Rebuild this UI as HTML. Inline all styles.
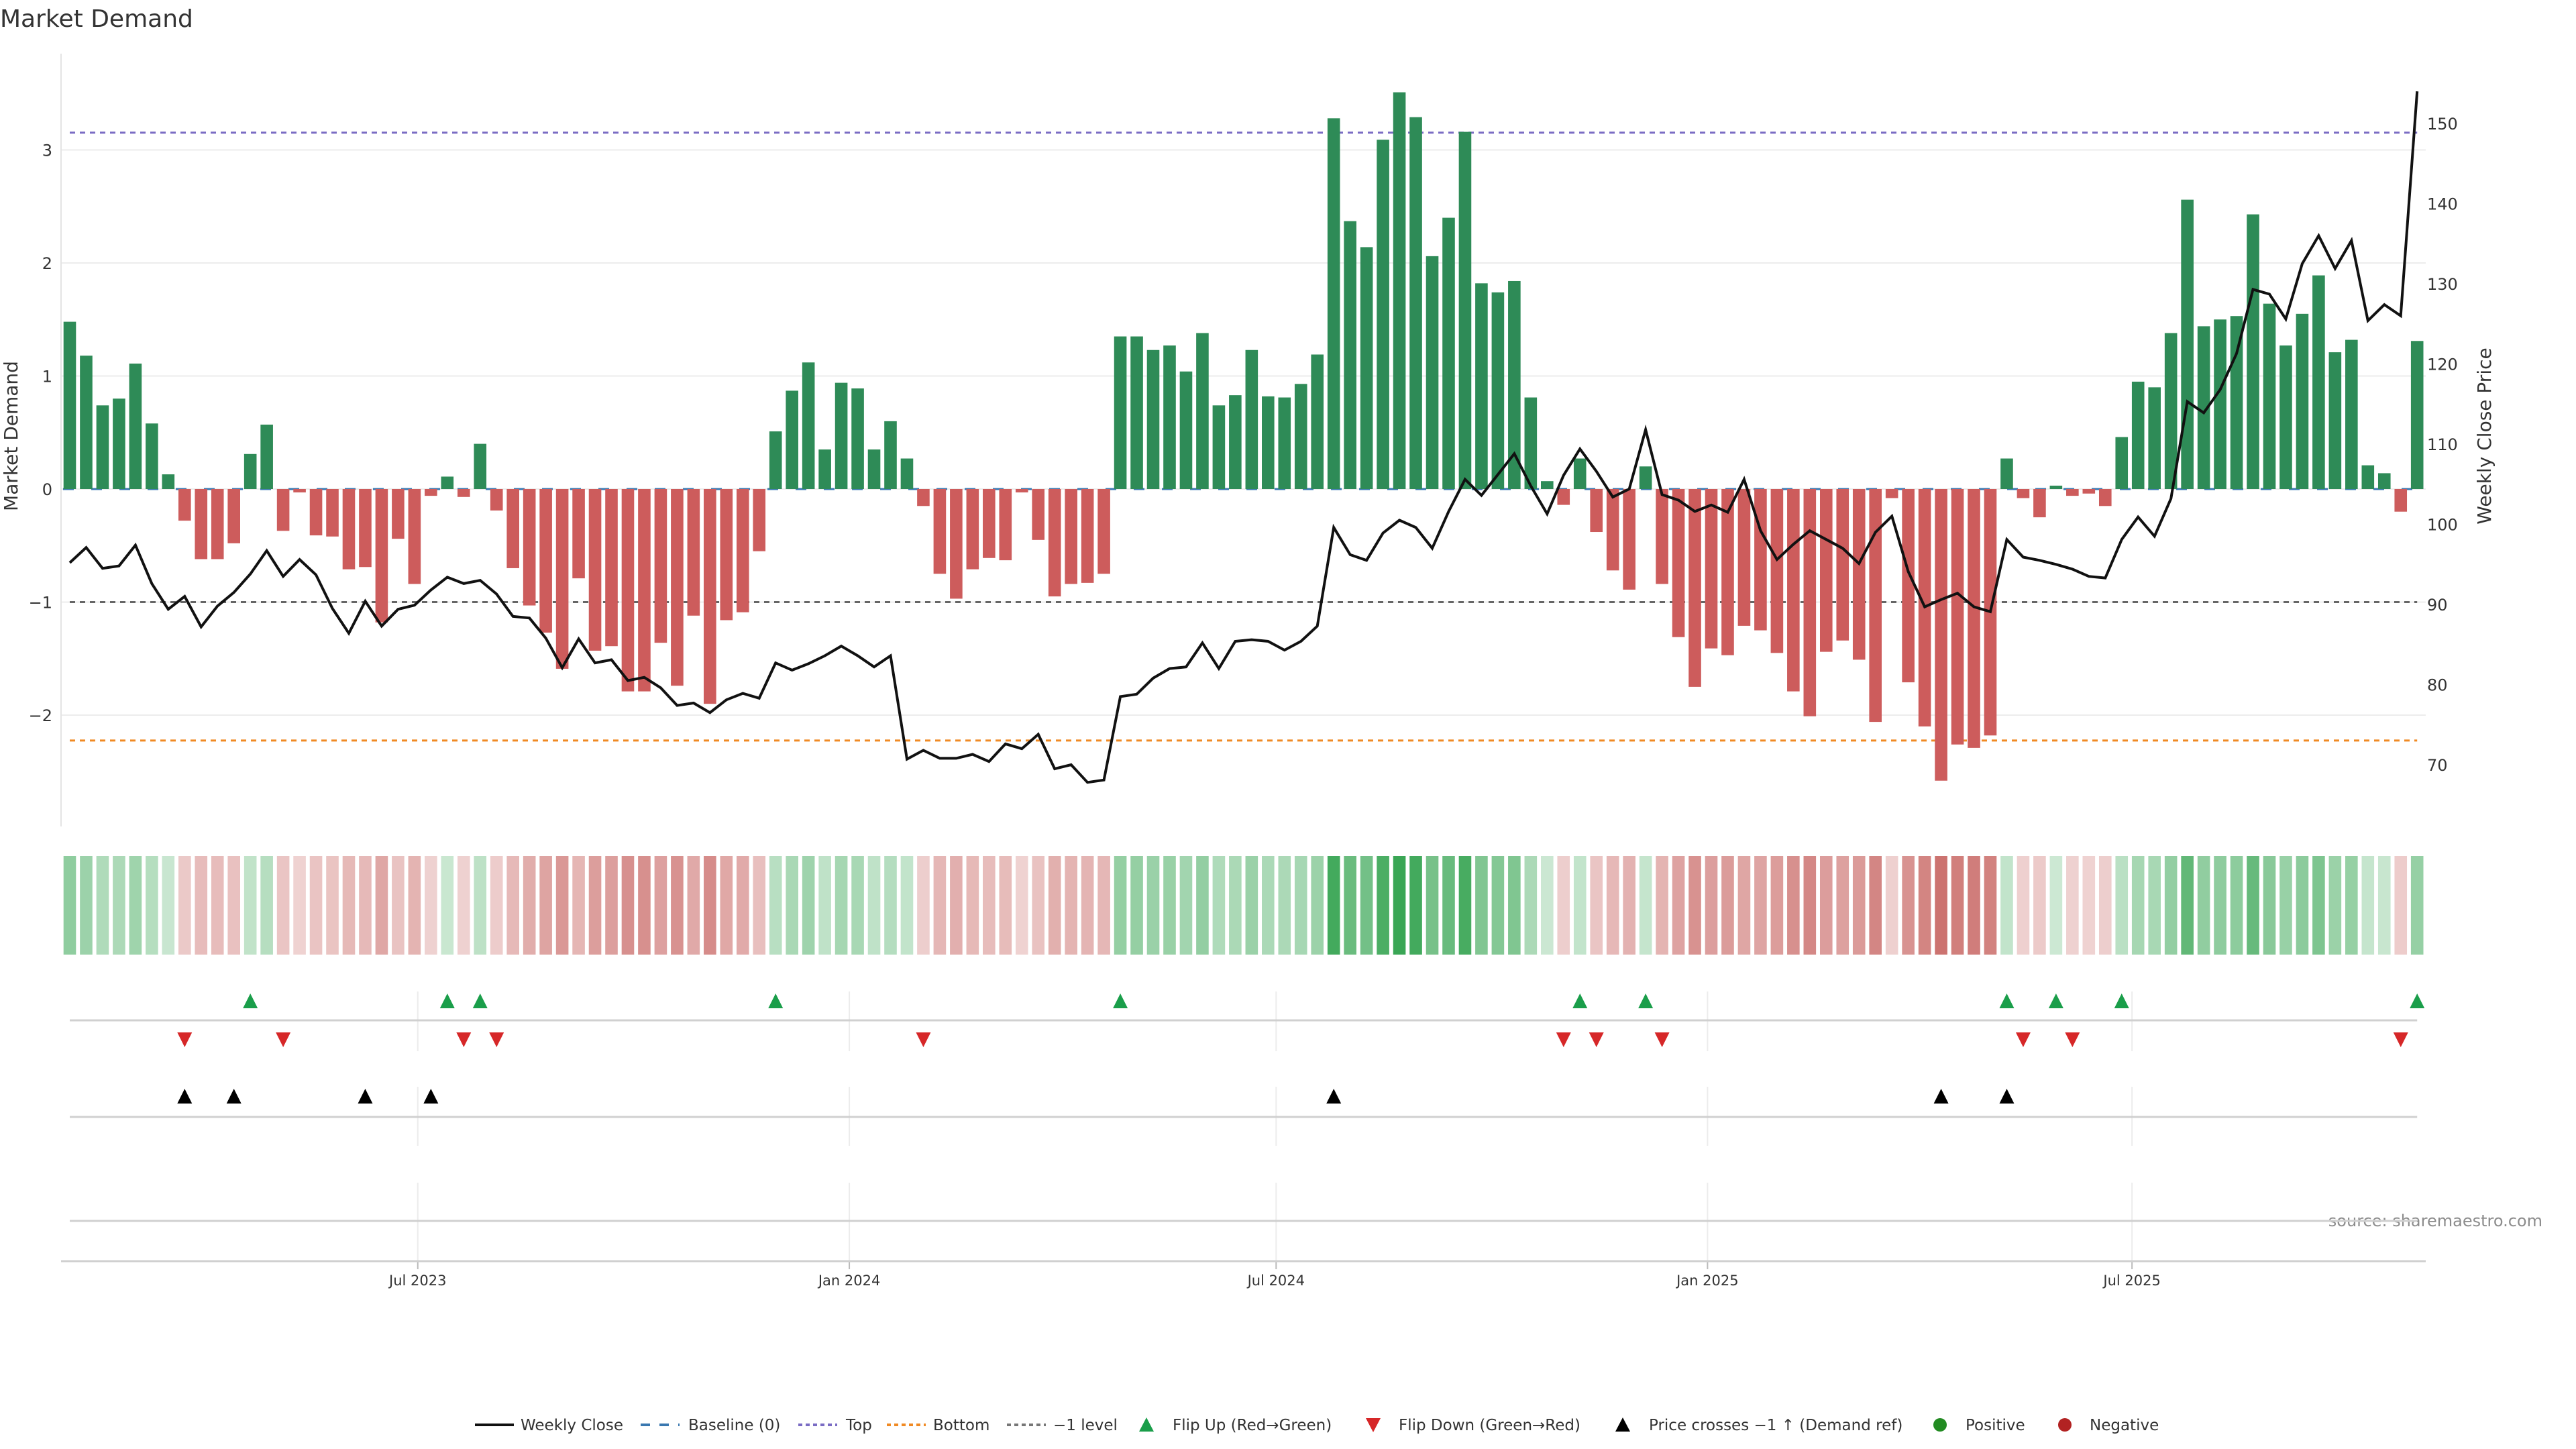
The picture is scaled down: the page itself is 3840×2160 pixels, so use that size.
<!DOCTYPE html>
<html><head><meta charset="utf-8"><title>Market Demand</title>
<style>
html,body{margin:0;padding:0;background:#fff;}
svg{display:block;}
text{font-family:"DejaVu Sans","Liberation Sans",sans-serif;}
</style></head>
<body>
<svg id="chart" xmlns="http://www.w3.org/2000/svg" width="3840" height="2160" viewBox="0 0 3840 2160">
<rect x="0" y="0" width="3840" height="2160" fill="#fff"/>
<text x="0" y="40" font-size="36" fill="#333">Market Demand</text>
<text transform="translate(26,650) rotate(-90)" text-anchor="middle" font-size="28" fill="#333">Market Demand</text>
<text transform="translate(3713,650) rotate(-90)" text-anchor="middle" font-size="28" fill="#333">Weekly Close Price</text>
<text x="3790" y="1828" text-anchor="end" font-size="24" fill="#8c8c8c">source: sharemaestro.com</text>
<g id="grid"></g><g id="refs"></g><g id="bars"></g><g id="line"></g><g id="heat"></g><g id="signals"></g><g id="axes"></g><g id="legend"></g>
</svg>
<script>
const demand = [1.48,1.18,0.74,0.80,1.11,0.58,0.13,-0.28,-0.62,-0.62,-0.48,0.31,0.57,-0.37,-0.03,-0.41,-0.42,-0.71,-0.69,-1.18,-0.44,-0.84,-0.06,0.11,-0.07,0.40,-0.19,-0.70,-1.03,-1.27,-1.59,-0.79,-1.43,-1.39,-1.79,-1.79,-1.36,-1.74,-1.12,-1.90,-1.16,-1.09,-0.55,0.51,0.87,1.12,0.35,0.94,0.89,0.35,0.60,0.27,-0.15,-0.75,-0.97,-0.71,-0.61,-0.63,-0.03,-0.45,-0.95,-0.84,-0.83,-0.75,1.35,1.35,1.23,1.27,1.04,1.38,0.74,0.83,1.23,0.82,0.81,0.93,1.19,3.28,2.37,2.14,3.09,3.51,3.29,2.06,2.40,3.16,1.82,1.74,1.84,0.81,0.07,-0.14,0.27,-0.38,-0.72,-0.89,0.20,-0.84,-1.31,-1.75,-1.41,-1.47,-1.21,-1.25,-1.45,-1.79,-2.01,-1.44,-1.34,-1.51,-2.06,-0.08,-1.71,-2.10,-2.58,-2.26,-2.29,-2.18,0.27,-0.08,-0.25,0.03,-0.06,-0.04,-0.15,0.46,0.95,0.90,1.38,2.56,1.44,1.50,1.53,2.43,1.64,1.27,1.55,1.89,1.21,1.32,0.21,0.14,-0.20,1.31];
const price = [95.2,97.1,94.5,94.8,97.4,92.6,89.4,91.0,87.2,89.8,91.5,93.8,96.7,93.5,95.6,93.7,89.5,86.4,90.4,87.3,89.4,89.9,91.8,93.4,92.6,93.0,91.3,88.5,88.3,85.8,82.1,85.7,82.7,83.1,80.5,80.9,79.6,77.4,77.7,76.5,78.1,78.9,78.3,82.7,81.8,82.6,83.6,84.8,83.6,82.2,83.6,70.7,71.8,70.8,70.8,71.3,70.4,72.6,72.0,73.8,69.5,70.0,67.8,68.1,78.5,78.8,80.8,82.0,82.2,85.2,82.0,85.4,85.6,85.4,84.3,85.4,87.3,99.6,96.2,95.5,98.9,100.5,99.6,97.0,101.6,105.6,103.6,106.2,108.8,104.8,101.3,106.1,109.4,106.6,103.4,104.4,111.8,103.7,103.0,101.6,102.4,101.5,105.6,99.2,95.6,97.5,99.2,98.1,97.0,95.1,99.0,101.0,94.1,89.7,90.6,91.4,89.7,89.1,98.1,95.9,95.5,95.0,94.4,93.5,93.3,98.1,100.9,98.5,103.2,115.3,113.9,116.8,121.3,129.3,128.7,125.6,132.5,136.0,131.9,135.4,125.4,127.4,126.0,154.0];
const yTicks = [3,2,1,0,-1,-2];
const yTickLabels = ["3","2","1","0","\u22121","\u22122"];
const priceTicks = [70,80,90,100,110,120,130,140,150];
const dateTickWeeks = [21.2,47.49,73.49,99.77,125.63];
const dateTickLabels = ["Jul 2023","Jan 2024","Jul 2024","Jan 2025","Jul 2025"];
const refLevels = [3.153,-2.225,-1];
const demandRefPrice = 90;

const NS="http://www.w3.org/2000/svg";
function mk(tag, attrs, parent){const e=document.createElementNS(NS,tag);for(const k in attrs)e.setAttribute(k,attrs[k]);parent.appendChild(e);return e;}
const X0=104, PITCH=24.47, BW=18.6;
const xAt = i => X0 + i*PITCH;
const yAt = v => 729 - v*168.5;
const pAt = p => 184 + (150-p)*11.95;
const g = id => document.getElementById(id);

yTicks.forEach((t,k)=>{
  const l=mk('line',{x1:91,x2:3616,y1:yAt(t),y2:yAt(t),stroke:'#ececec','stroke-width':2},g('grid'));
  
  
  const tx=mk('text',{x:78,y:yAt(t)+9,'text-anchor':'end','font-size':24,fill:'#333'},g('axes'));
  tx.textContent=yTickLabels[k];
  
  
});
priceTicks.forEach(p=>{
  const tx=mk('text',{x:3618,y:pAt(p)+9,'font-size':24,fill:'#333'},g('axes'));
  tx.textContent=String(p);
  
  
});
let ax=mk('line',{x1:91,x2:91,y1:80,y2:1232,stroke:'#e4e4e4','stroke-width':2},g('axes'));



const refColors=['#7a6cc4','#f08a24','#666'];
const refNames=['top-line','bottom-line','minus-one-level-line'];
refLevels.forEach((v,k)=>{
  const l=mk('line',{x1:X0,x2:xAt(demand.length-1),y1:yAt(v),y2:yAt(v),stroke:refColors[k],'stroke-width':3,'stroke-dasharray':'8 7'},g('refs'));
  
  
});

demand.forEach((v,i)=>{
  const y0=yAt(0), y1=yAt(v);
  const r=mk('rect',{x:xAt(i)-BW/2,y:Math.min(y0,y1),width:BW,height:Math.max(1,Math.abs(y1-y0)),fill:v>=0?'#2e8b57':'#cd5c5c'},g('bars'));
  
  
});
let bl=mk('line',{x1:X0-10,x2:xAt(demand.length-1)+10,y1:yAt(0),y2:yAt(0),stroke:'#3a78b0','stroke-width':3,'stroke-dasharray':'16 26'},g('refs'));



const pts=price.map((p,i)=>xAt(i).toFixed(1)+','+pAt(p).toFixed(1)).join(' ');
let pl=mk('polyline',{points:pts,fill:'none',stroke:'#111','stroke-width':4,'stroke-linejoin':'miter'},g('line'));



function heatColor(v){
  const t=0.25+0.75*Math.min(Math.abs(v)/3.5,1);
  const base=v>=0?[58,166,85]:[192,80,77];
  const c=base.map(b=>Math.round(255-(255-b)*t));
  return 'rgb('+c.join(',')+')';
}
demand.forEach((v,i)=>{
  const r=mk('rect',{x:xAt(i)-BW/2,y:1276,width:BW,height:147,fill:heatColor(v)},g('heat'));
  
  
});

[1521,1665,1820].forEach(y=>{
  const l=mk('line',{x1:X0,x2:xAt(demand.length-1),y1:y,y2:y,stroke:'#d0d0d0','stroke-width':3},g('signals'));
  
  
});
dateTickWeeks.forEach((w,k)=>{
  const x=xAt(w);
  [[1478,1567],[1620,1708],[1763,1880]].forEach(([a,b])=>{
    const l=mk('line',{x1:x,x2:x,y1:a,y2:b,stroke:'#ececec','stroke-width':2},g('grid'));
    
    
  });
  const t=mk('line',{x1:x,x2:x,y1:1880,y2:1892,stroke:'#bbb','stroke-width':2},g('axes'));
  
  
  const tx=mk('text',{x:x,y:1916,'text-anchor':'middle','font-size':21,fill:'#333'},g('axes'));
  tx.textContent=dateTickLabels[k];
  
  
});
let xa=mk('line',{x1:91,x2:3616,y1:1880,y2:1880,stroke:'#d0d0d0','stroke-width':3},g('axes'));



function tri(cx,cy,up,fill){
  const s=11;
  const p=up?`${cx-s},${cy+s} ${cx+s},${cy+s} ${cx},${cy-s}`:`${cx-s},${cy-s} ${cx+s},${cy-s} ${cx},${cy+s}`;
  return mk('polygon',{points:p,fill:fill},g('signals'));
}
for(let i=1;i<demand.length;i++){
  if(demand[i-1]<0&&demand[i]>=0){
    const e=tri(xAt(i),1492,true,'#1a9e4a');
    
    
  }
  if(demand[i-1]>=0&&demand[i]<0){
    const e=tri(xAt(i),1550,false,'#d62728');
    
    
  }
  if(price[i-1]<demandRefPrice&&price[i]>=demandRefPrice){
    const e=tri(xAt(i),1634,true,'#000');
    
    
  }
}

const L=g('legend'), LY=2124, F=23;
function ltext(x,s){const t=mk('text',{x:x,y:LY+8,'font-size':F,fill:'#333'},L);t.textContent=s;}
function lline(x,stroke,dash,name){const l=mk('line',{x1:x,x2:x+58,y1:LY,y2:LY,stroke:stroke,'stroke-width':4,'stroke-dasharray':dash},L);}
lline(708,'#111','none','legend-weekly-close');ltext(776,'Weekly Close');
lline(955,'#3a78b0','14 14','legend-baseline');ltext(1026,'Baseline (0)');
lline(1190,'#7a6cc4','6 5','legend-top');ltext(1261,'Top');
lline(1322,'#f08a24','6 5','legend-bottom');ltext(1391,'Bottom');
lline(1501,'#777','6 5','legend-minus-one');ltext(1570,'\u22121 level');
let e1=mk('polygon',{points:`1698,2134 1720,2134 1709,2113`,fill:'#1a9e4a'},L);


ltext(1748,'Flip Up (Red\u2192Green)');
let e2=mk('polygon',{points:`2036,2114 2058,2114 2047,2135`,fill:'#d62728'},L);


ltext(2085,'Flip Down (Green\u2192Red)');
let e3=mk('polygon',{points:`2408,2134 2430,2134 2419,2113`,fill:'#000'},L);


ltext(2458,'Price crosses \u22121 \u2191 (Demand ref)');
let c1=mk('circle',{cx:2892,cy:LY,r:10,fill:'#228b22'},L);


ltext(2930,'Positive');
let c2=mk('circle',{cx:3078,cy:LY,r:10,fill:'#b22222'},L);


ltext(3115,'Negative');
</script>
</body></html>
